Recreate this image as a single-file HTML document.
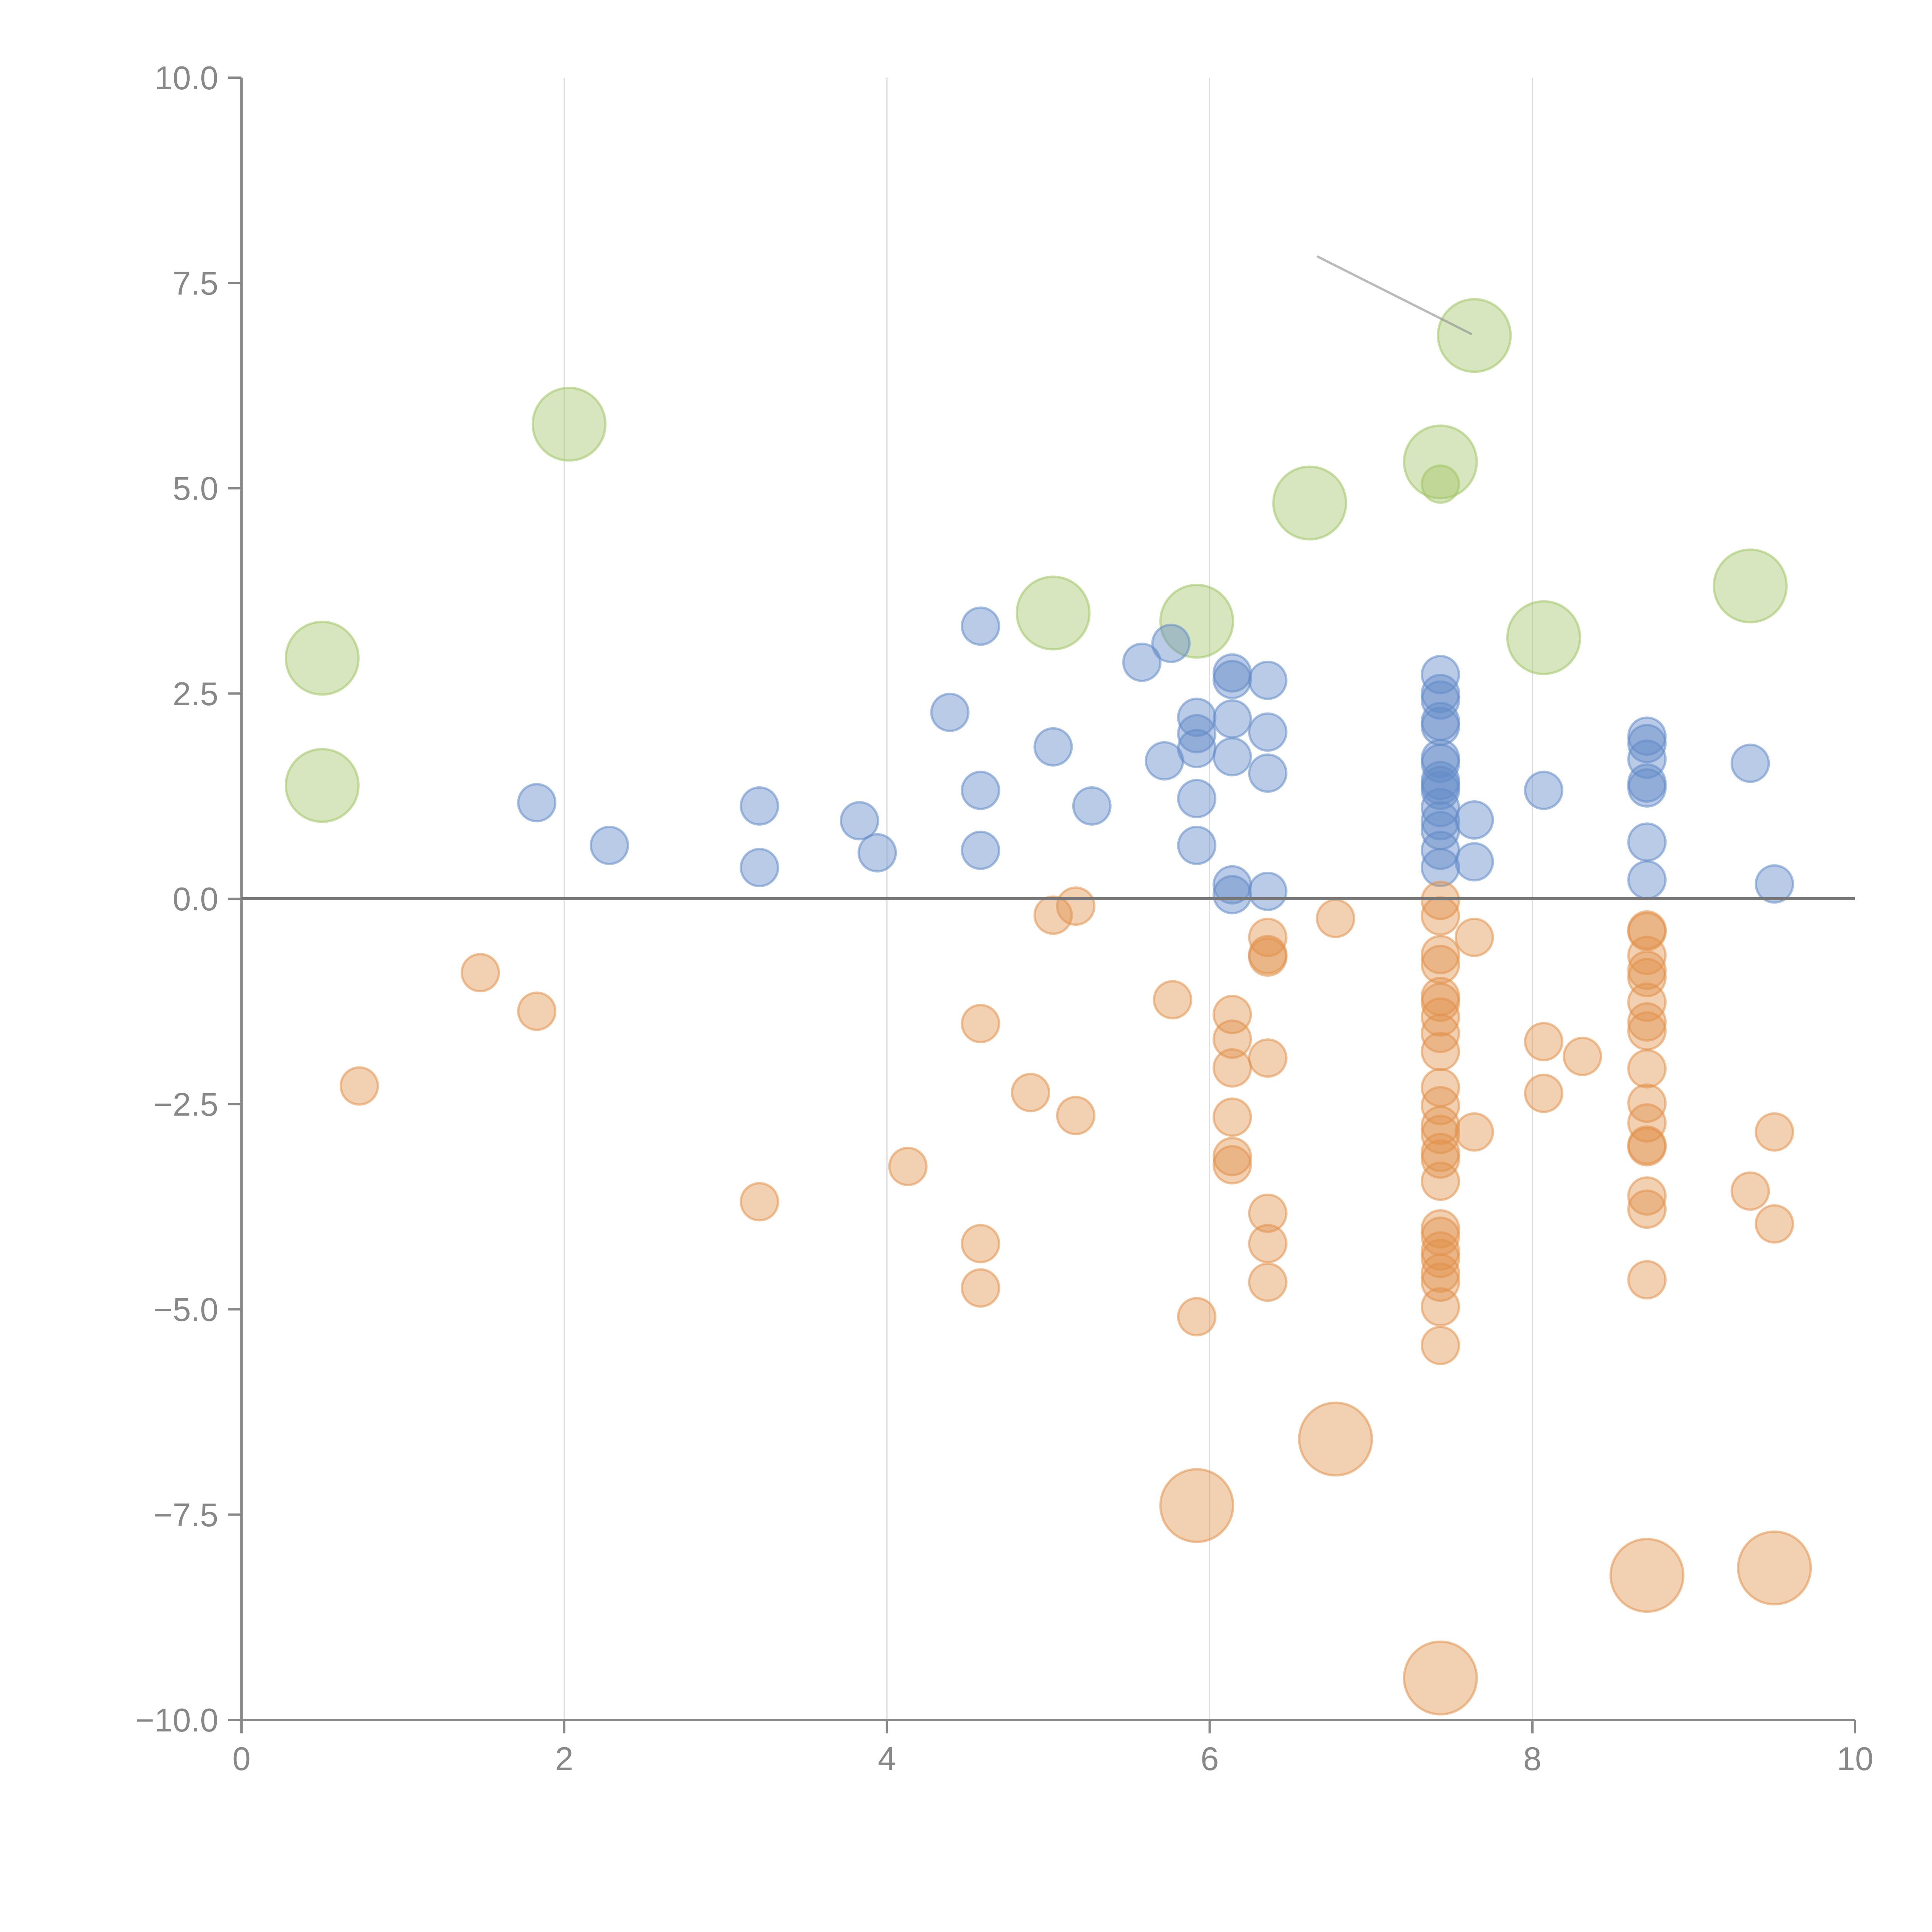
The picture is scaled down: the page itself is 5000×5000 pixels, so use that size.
<!DOCTYPE html>
<html><head><meta charset="utf-8"><style>html,body{margin:0;padding:0;background:#fff}svg{display:block}</style></head>
<body>
<svg id="chart" width="5000" height="5000" viewBox="0 0 5000 5000" xmlns="http://www.w3.org/2000/svg" font-family="Liberation Sans, sans-serif"></svg>
<script>
const xTicks = [0, 2, 4, 6, 8, 10];
const yTicks = [10, 7.5, 5, 2.5, 0, -2.5, -5, -7.5, -10];
const yTickLabels = ["10.0","7.5","5.0","2.5","0.0","\u22122.5","\u22125.0","\u22127.5","\u221210.0"];
const blueX = [1.83,2.28,3.21,3.21,3.83,3.94,4.39,4.58,4.58,4.58,5.03,5.27,5.58,5.76,5.72,5.92,5.92,5.92,5.92,5.92,6.14,6.14,6.14,6.14,6.14,6.14,6.36,6.36,6.36,6.36,
 7.43,7.43,7.43,7.43,7.43,7.43,7.43,7.43,7.43,7.43,7.43,7.43,7.43,7.43,7.43,7.64,7.64,8.07,8.71,8.71,8.71,8.71,8.71,8.71,8.71,9.35,9.50];
const blueY = [1.17,0.65,1.13,0.38,0.95,0.56,2.27,3.32,1.32,0.59,1.85,1.13,2.88,3.11,1.68,2.21,2.01,1.83,1.22,0.65,2.75,2.67,2.19,1.73,0.17,0.05,2.66,2.03,1.53,0.09,
 2.73,2.5,2.42,2.16,2.1,1.71,1.65,1.44,1.38,1.32,1.11,0.95,0.83,0.59,0.38,0.96,0.45,1.32,1.98,1.89,1.70,1.41,1.35,0.69,0.23,1.65,0.18];
const orangeX = [0.73,1.48,1.83,3.21,4.13,4.58,4.58,4.58,4.89,5.03,5.17,5.17,5.77,5.92,6.14,6.14,6.14,6.14,6.14,6.14,6.36,6.36,6.36,6.36,6.36,6.36,6.36,6.78,
 7.43,7.43,7.43,7.43,7.43,7.43,7.43,7.43,7.43,7.43,7.43,7.43,7.43,7.43,7.43,7.43,7.43,7.43,7.43,7.43,7.43,7.43,7.43,7.43,
 7.64,7.64,8.07,8.07,8.31,8.71,8.71,8.71,8.71,8.71,8.71,8.71,8.71,8.71,8.71,8.71,8.71,8.71,8.71,8.71,8.71,9.35,9.50,9.50];
const orangeY = [-2.28,-0.90,-1.37,-3.69,-3.26,-1.52,-4.20,-4.74,-2.36,-0.20,-0.09,-2.64,-1.23,-5.09,-1.41,-1.71,-2.06,-2.66,-3.14,-3.24,-0.47,-0.68,-0.71,-1.94,-3.83,-4.20,-4.67,-0.24,
 -0.02,-0.21,-0.68,-0.80,-1.19,-1.26,-1.44,-1.64,-1.86,-2.30,-2.52,-2.76,-2.87,-3.09,-3.17,-3.44,-4.02,-4.11,-4.29,-4.38,-4.56,-4.67,-4.97,-5.44,
 -0.47,-2.84,-1.74,-2.37,-1.92,-0.38,-0.40,-0.69,-0.87,-0.96,-1.26,-1.50,-1.61,-2.07,-2.49,-2.73,-3.00,-3.02,-3.62,-3.78,-4.64,-3.56,-2.84,-3.96];
const bigOrangeX = [6.78,5.92,7.43,8.71,9.50];
const bigOrangeY = [-6.58,-7.39,-9.49,-8.24,-8.15];
const greenX = [0.5,0.5,2.03,5.03,5.92,6.62,7.43,7.64,8.07,9.35];
const greenY = [2.93,1.38,5.78,3.48,3.38,4.82,5.32,6.86,3.18,3.81];
const smallGreenX = [7.43];
const smallGreenY = [5.05];

const svg = document.getElementById('chart');
const NS = 'http://www.w3.org/2000/svg';
const X0 = 625, X1 = 4801, YT = 201, YB = 4451;
const sx = v => X0 + (v - 0) / 10 * (X1 - X0);
const sy = v => YB - (v + 10) / 20 * (YB - YT);
function mk(tag, attrs) { const e = document.createElementNS(NS, tag); for (const k in attrs) e.setAttribute(k, attrs[k]); svg.appendChild(e); return e; }

xTicks.forEach(t => { if (t > 0 && t < 10) {
  const g = mk('line', {x1: sx(t), x2: sx(t), y1: YT, y2: YB, stroke: '#dcdcdc', 'stroke-width': 3});
  
  
}});
const ya = mk('line', {x1: X0, x2: X0, y1: YT, y2: YB, stroke: '#888', 'stroke-width': 6});


const xa = mk('line', {x1: X0, x2: X1, y1: YB, y2: YB, stroke: '#888', 'stroke-width': 6});


yTicks.forEach((t, i) => {
  const tk = mk('line', {x1: X0 - 35, x2: X0, y1: sy(t), y2: sy(t), stroke: '#888', 'stroke-width': 6});
  
  
  const tx = mk('text', {x: X0 - 60, y: sy(t) + 30, 'text-anchor': 'end', 'font-size': 85, fill: '#888'});
  tx.textContent = yTickLabels[i];
  
  
});
xTicks.forEach(t => {
  const tk = mk('line', {x1: sx(t), x2: sx(t), y1: YB, y2: YB + 35, stroke: '#888', 'stroke-width': 6});
  
  
  const tx = mk('text', {x: sx(t), y: YB + 130, 'text-anchor': 'middle', 'font-size': 85, fill: '#888'});
  tx.textContent = String(t);
  
  
});

function dots(xs, ys, r, fill, stroke, name) {
  xs.forEach((x, i) => {
    const c = mk('circle', {cx: sx(x), cy: sy(ys[i]), r: r, fill: fill, stroke: stroke, 'stroke-width': 6});
    
    
  });
}
dots(greenX, greenY, 94, 'rgba(160,196,100,0.42)', 'rgba(160,196,100,0.55)', 'green-bubble');
dots(smallGreenX, smallGreenY, 48, 'rgba(160,196,100,0.42)', 'rgba(160,196,100,0.55)', 'green-point');
dots(blueX, blueY, 48, 'rgba(100,140,200,0.45)', 'rgba(100,140,200,0.55)', 'blue-point');
dots(orangeX, orangeY, 48, 'rgba(225,145,75,0.42)', 'rgba(225,145,75,0.55)', 'orange-point');
dots(bigOrangeX, bigOrangeY, 94, 'rgba(225,145,75,0.42)', 'rgba(225,145,75,0.55)', 'orange-bubble');

const zl = mk('line', {x1: X0, x2: X1, y1: sy(0), y2: sy(0), stroke: '#777', 'stroke-width': 8});


const ll = mk('line', {x1: sx(6.67), y1: sy(7.82), x2: sx(7.62), y2: sy(6.88), stroke: 'rgba(140,140,140,0.6)', 'stroke-width': 6, 'stroke-linecap': 'round'});


</script>
</body></html>
